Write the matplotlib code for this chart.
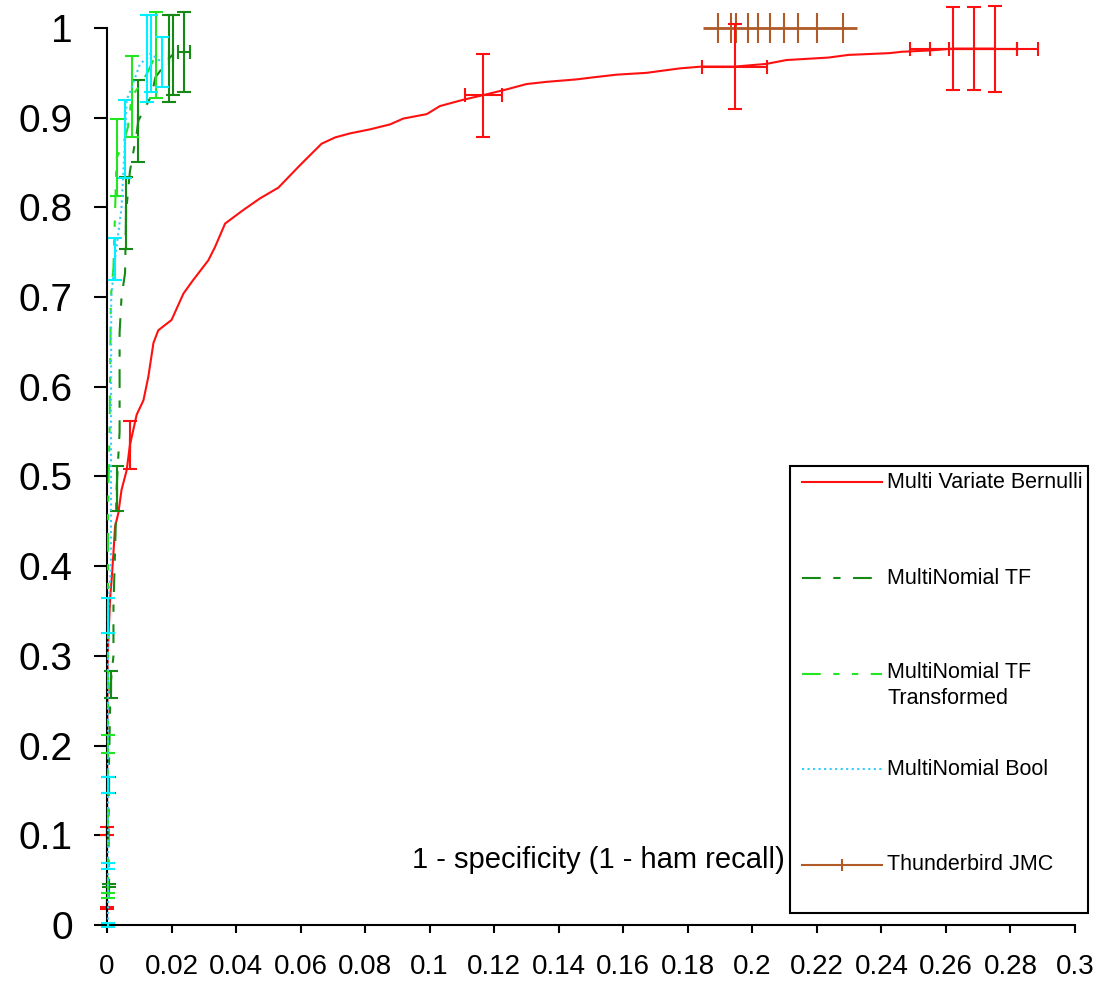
import matplotlib
matplotlib.use("Agg")
import matplotlib.pyplot as plt
from matplotlib.lines import Line2D
from matplotlib.patches import Rectangle
from matplotlib.ticker import MultipleLocator, FuncFormatter

plt.rcParams['font.family'] = ['Liberation Sans', 'DejaVu Sans']

# Multi Variate Bernulli (red)
mvb_x = [0.0, 0.0, 0.0002, 0.001, 0.0015, 0.002, 0.0025, 0.0035, 0.0045, 0.0061,
         0.0071, 0.0092, 0.0113, 0.0128, 0.0144, 0.0159, 0.0200, 0.0237, 0.0267, 0.0314,
         0.0335, 0.0366, 0.0381, 0.0422, 0.0474, 0.0531, 0.0598, 0.0665, 0.0707, 0.0753,
         0.0815, 0.0877, 0.0918, 0.0991, 0.1032, 0.1104, 0.1164, 0.1239, 0.1300, 0.1363,
         0.1455, 0.1507, 0.1580, 0.1672, 0.1734, 0.1776, 0.1843, 0.1946, 0.2044, 0.2106,
         0.2235, 0.2298, 0.2426, 0.2463, 0.2552, 0.2621, 0.2688, 0.2752]
mvb_y = [0.019, 0.1045, 0.30, 0.366, 0.388, 0.415, 0.444, 0.459, 0.485, 0.507,
         0.535, 0.569, 0.585, 0.611, 0.649, 0.663, 0.6745, 0.704, 0.719, 0.741,
         0.756, 0.782, 0.786, 0.797, 0.810, 0.822, 0.847, 0.871, 0.878, 0.8825,
         0.887, 0.8925, 0.899, 0.904, 0.913, 0.920, 0.925, 0.9316, 0.9375, 0.940,
         0.9427, 0.945, 0.948, 0.950, 0.953, 0.955, 0.957, 0.957, 0.960, 0.9643,
         0.967, 0.970, 0.972, 0.9735, 0.975, 0.977, 0.977, 0.977]
mvb_eb_x = [0.0, 0.0, 0.0071, 0.1164, 0.1946, 0.2621, 0.2688, 0.2752]
mvb_eb_y = [0.019, 0.1045, 0.535, 0.925, 0.957, 0.977, 0.977, 0.977]
mvb_eb_yerr = [0.001, 0.0045, 0.027, 0.046, 0.047, 0.046, 0.046, 0.048]
mvb_eb_xlo = [0.0, 0.0, 0.0, 0.0054, 0.0101, 0.0131, 0.0136, 0.0142]
mvb_eb_xhi = [0.0, 0.0, 0.0, 0.0061, 0.0098, 0.0198, 0.0198, 0.0067]

# MultiNomial TF (dark green)
mtf_x = [0.0005, 0.0005, 0.0005, 0.0011, 0.002, 0.002, 0.0025, 0.003, 0.0039, 0.0039,
         0.0045, 0.0056, 0.0059, 0.0071, 0.0092, 0.0097, 0.0138, 0.0150, 0.0185, 0.0192,
         0.0203, 0.0239]
mtf_y = [0.03, 0.044, 0.156, 0.268, 0.30, 0.355, 0.418, 0.4865, 0.55, 0.66,
         0.70, 0.727, 0.794, 0.84, 0.883, 0.8965, 0.925, 0.945, 0.962, 0.966,
         0.970, 0.9735]
mtf_eb_x = [0.0005, 0.0005, 0.0011, 0.003, 0.0059, 0.0097, 0.0192, 0.0203, 0.0239]
mtf_eb_y = [0.044, 0.156, 0.268, 0.4865, 0.794, 0.8965, 0.966, 0.970, 0.9735]
mtf_eb_yerr = [0.002, 0.009, 0.015, 0.025, 0.04, 0.0455, 0.048, 0.045, 0.0445]
mtf_eb_xerr = [0.0, 0.0, 0.0, 0.0, 0.0, 0.0, 0.0, 0.0, 0.0018]

# MultiNomial TF Transformed (light green)
mtt_x = [0.0003, 0.0003, 0.0003, 0.0003, 0.0008, 0.0012, 0.002, 0.0027, 0.003, 0.005,
         0.0065, 0.0077, 0.0100, 0.0125, 0.0151, 0.0160]
mtt_y = [0.033, 0.202, 0.30, 0.46, 0.55, 0.70, 0.733, 0.82, 0.8555, 0.87,
         0.89, 0.924, 0.935, 0.95, 0.970, 0.975]
mtt_eb_x = [0.0003, 0.0003, 0.003, 0.0077, 0.0151]
mtt_eb_y = [0.033, 0.202, 0.8555, 0.924, 0.970]
mtt_eb_yerr = [0.003, 0.01, 0.0425, 0.045, 0.048]

# MultiNomial Bool (cyan)
mbo_x = [0.0003, 0.0003, 0.0003, 0.0003, 0.0012, 0.0013, 0.0025, 0.0045, 0.0056, 0.0061,
         0.0077, 0.0102, 0.0123, 0.0135, 0.0169]
mbo_y = [0.0, 0.0655, 0.156, 0.345, 0.40, 0.70, 0.7425, 0.80, 0.8765, 0.92,
         0.934, 0.96, 0.966, 0.9715, 0.962]
mbo_eb_x = [0.0003, 0.0003, 0.0003, 0.0003, 0.0025, 0.0056, 0.0123, 0.0135, 0.0169]
mbo_eb_y = [0.0, 0.0655, 0.156, 0.345, 0.7425, 0.8765, 0.966, 0.9715, 0.962]
mbo_eb_yerr = [0.002, 0.0035, 0.009, 0.019, 0.0235, 0.0435, 0.048, 0.0425, 0.028]

# Thunderbird JMC (brown)
tb_x = [0.1894, 0.1933, 0.1949, 0.1987, 0.2018, 0.2055, 0.2099, 0.2143, 0.2199, 0.2280]
tb_y = [1.0, 1.0, 1.0, 1.0, 1.0, 1.0, 1.0, 1.0, 1.0, 1.0]
tb_xlo = [0.0047, 0.0, 0.0, 0.0, 0.0, 0.0, 0.0, 0.0, 0.0, 0.0]
tb_xhi = [0.0, 0.0, 0.0, 0.0, 0.0, 0.0, 0.0, 0.0, 0.0, 0.0044]

labels = ["Multi Variate Bernulli", "MultiNomial TF", "MultiNomial TF\nTransformed",
          "MultiNomial Bool", "Thunderbird JMC"]

RED = '#ff1010'
DKGREEN = '#148a14'
LTGREEN = '#22e622'
CYAN_LINE = '#33ccff'
CYAN_ERR = '#00f0ff'
BROWN = '#b05a28'

DASH_TF = (9, 6, 3.5, 6)
DASH_TT = (9, 6, 3, 6, 3, 6)


def noclip(container):
    for a in container.get_children():
        a.set_clip_on(False)


def errbars(ax, x, y, yerr, xerr, color, z):
    eb = ax.errorbar(x, y, yerr=yerr, xerr=xerr, fmt='none', ecolor=color,
                     elinewidth=1.5, capsize=5, capthick=1.5, zorder=z)
    noclip(eb)


fig = plt.figure(figsize=(11, 9.85), dpi=100)
ax = fig.add_axes([107 / 1100, 60 / 985, 968 / 1100, 897 / 985])

# thunderbird at the bottom, red next, the near-zero curves on top
eb = ax.errorbar(tb_x, tb_y, xerr=[tb_xlo, tb_xhi], color=BROWN, lw=2, marker='|',
                 markersize=21, markeredgewidth=1.5, capsize=0, elinewidth=2, zorder=2)
noclip(eb)

ax.plot(mvb_x, mvb_y, color=RED, lw=1.5, clip_on=False, zorder=2.5)
errbars(ax, mvb_eb_x, mvb_eb_y, mvb_eb_yerr, [mvb_eb_xlo, mvb_eb_xhi], RED, 2.5)

ax.plot(mtf_x, mtf_y, color=DKGREEN, lw=1.5, dashes=DASH_TF, clip_on=False, zorder=3)
errbars(ax, mtf_eb_x, mtf_eb_y, mtf_eb_yerr, mtf_eb_xerr, DKGREEN, 3)

ax.plot(mtt_x, mtt_y, color=LTGREEN, lw=1.5, dashes=DASH_TT, clip_on=False, zorder=4)
errbars(ax, mtt_eb_x, mtt_eb_y, mtt_eb_yerr, None, LTGREEN, 4)

ax.plot(mbo_x, mbo_y, color=CYAN_LINE, lw=1.5, ls=':', clip_on=False, zorder=5)
errbars(ax, mbo_eb_x, mbo_eb_y, mbo_eb_yerr, None, CYAN_ERR, 5)

ax.set_xlim(0, 0.3)
ax.set_ylim(0, 1)
ax.xaxis.set_major_locator(MultipleLocator(0.02))
ax.yaxis.set_major_locator(MultipleLocator(0.1))
fmt = FuncFormatter(lambda v, p: f'{round(v, 3):g}')
ax.xaxis.set_major_formatter(fmt)
ax.yaxis.set_major_formatter(fmt)
ax.tick_params(axis='y', direction='out', length=9.5, width=1.5, labelsize=28, pad=15)
ax.tick_params(axis='x', direction='out', length=6, width=1.5, labelsize=20, pad=15)
ax.spines['top'].set_visible(False)
ax.spines['right'].set_visible(False)
for s in ('left', 'bottom'):
    ax.spines[s].set_linewidth(1.5)

ax.text(0.0945, 0.0725, "1 - specificity (1 - ham recall)", fontsize=21,
        ha='left', va='center')

# legend box drawn by hand so the two-line entry keeps the handle on its first line
box = Rectangle((0.7056, 0.0134), 0.3078, 0.4983, transform=ax.transAxes,
                facecolor='white', edgecolor='black', lw=1.5, zorder=10, clip_on=False)
ax.add_patch(box)
entry_y = [0.4935, 0.3865, 0.2798, 0.1736, 0.0669]
styles = [dict(color=RED), dict(color=DKGREEN, dashes=DASH_TF),
          dict(color=LTGREEN, dashes=DASH_TT), dict(color=CYAN_LINE, ls=':'),
          dict(color=BROWN)]
for ey, lab, st in zip(entry_y, labels, styles):
    ln = Line2D([0.718, 0.7593, 0.8006], [ey, ey, ey], transform=ax.transAxes,
                lw=1.5, zorder=11, clip_on=False, **st)
    if lab == "Thunderbird JMC":
        ln.set_marker('|')
        ln.set_markevery([1])
        ln.set_markersize(8)
        ln.set_markeredgewidth(1.5)
    ax.add_line(ln)
    if '\n' in lab:
        ax.text(0.8058, ey + 0.0137, lab, transform=ax.transAxes, fontsize=15.5,
                ha='left', va='top', linespacing=1.3, zorder=11)
    else:
        ax.text(0.8058, ey, lab, transform=ax.transAxes, fontsize=15.5,
                ha='left', va='center', zorder=11)

fig.savefig("out.png", dpi=100)
